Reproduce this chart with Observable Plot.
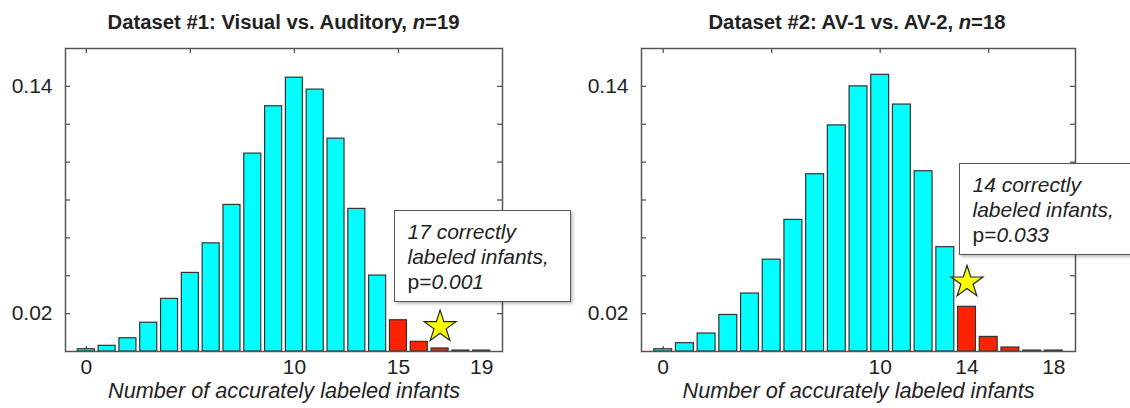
<!DOCTYPE html>
<html>
<head>
<meta charset="utf-8">
<script src="https://cdn.jsdelivr.net/npm/d3@7"></script>
<script src="https://cdn.jsdelivr.net/npm/@observablehq/plot@0.6"></script>
<style>
  html, body { margin: 0; padding: 0; background: #fff; }
  #fig {
    position: relative; width: 1130px; height: 408px; overflow: hidden;
    font-family: "Liberation Sans", Arial, Helvetica, sans-serif; color: #222;
  }
  .panel { position: absolute; top: 0; }
  .title {
    position: absolute; top: 10px; line-height: 24px; font-size: 20.3px; font-weight: bold;
    white-space: nowrap; transform: translateX(-50%);
  }
  .note {
    position: absolute; box-sizing: border-box; height: 92px; background: #fff;
    border: 1.5px solid #555; box-shadow: 2px 2px 3px rgba(0,0,0,0.25);
    padding: 8px 0 0 12.5px; font-size: 21px; line-height: 25px; white-space: nowrap;
  }
  .note i { font-style: italic; }
</style>
</head>
<body>
<div id="fig"></div>
<script>
// Permutation distributions: probability of k correctly labeled infants
const countsA = [0, 1, 2, 3, 4, 5, 6, 7, 8, 9, 10, 11, 12, 13, 14, 15, 16, 17, 18, 19];
const probsA = [0.0012, 0.003, 0.007, 0.0152, 0.0278, 0.0415, 0.0571, 0.0774, 0.1045, 0.1295,
                0.1446, 0.1383, 0.1124, 0.0753, 0.0401, 0.0165, 0.0051, 0.0016, 0.0005, 0.0005];
const countsB = [0, 1, 2, 3, 4, 5, 6, 7, 8, 9, 10, 11, 12, 13, 14, 15, 16, 17, 18];
const probsB = [0.0012, 0.0044, 0.0095, 0.0193, 0.0306, 0.0485, 0.0695, 0.0936, 0.1194, 0.14,
                0.1461, 0.1304, 0.0952, 0.0551, 0.0236, 0.0077, 0.0021, 0.0005, 0.0005];

// Observed counts (first count in the red tail) and star heights
const tailA = 15, observedA = 17, starA = 0.013;
const tailB = 14, observedB = 14, starB = 0.0366;

// Axis ticks and labels
const xDomainA = [-1, 20];
const xDomainB = [-1, 19];
const yDomain = [0, 0.16];
const xTicks = [0, 5, 10, 15];
const yTicks = [0.02, 0.04, 0.06, 0.08, 0.10, 0.12, 0.14];
const yLabels = [0.02, 0.14];
const xLabelsA = [0, 10, 15, 19];
const xLabelsB = [0, 10, 14, 18];
const xTitle = "Number of accurately labeled infants";

const cyan = "#00ffff", red = "#ff2200", frameColor = "#555", barStroke = "#333";

function panel(counts, probs, tail, observed, starY, xDomain, xLabels, marginLeft, marginRight) {
  const W = 565, H = 408, mt = 48, mb = 57;
  const fw = W - marginLeft - marginRight, fh = H - mt - mb;
  const bars = counts.map((k, i) => ({k, p: probs[i]}));
  return Plot.plot({
    width: W, height: H, marginLeft, marginRight, marginTop: mt, marginBottom: mb,
    x: {domain: xDomain, axis: null},
    y: {domain: yDomain, axis: null},
    color: {type: "identity"},
    style: {fontFamily: "'Liberation Sans', Arial, Helvetica, sans-serif", color: "#222", background: "transparent", overflow: "visible"},
    marks: [
      // inward ticks on all four sides (drawn under the bars)
      Plot.tickY(yTicks, {y: d => d, insetRight: fw - 5, stroke: frameColor, strokeWidth: 1.3}),
      Plot.tickY(yTicks, {y: d => d, insetLeft: fw - 5, stroke: frameColor, strokeWidth: 1.3}),
      Plot.tickX(xTicks, {x: d => d, insetBottom: fh - 5, stroke: frameColor, strokeWidth: 1.3}),
      Plot.tickX(xTicks, {x: d => d, insetTop: fh - 5, stroke: frameColor, strokeWidth: 1.3}),
      Plot.rectY(bars, {
        x1: d => d.k - 0.5, x2: d => d.k + 0.5, y: "p",
        insetLeft: 1.9, insetRight: 1.9,
        fill: d => d.k >= tail ? red : cyan,
        stroke: barStroke, strokeWidth: 1.2
      }),
      Plot.frame({stroke: frameColor, strokeWidth: 1.5}),
      Plot.dot([{k: observed, p: starY}], {
        x: "k", y: "p", symbol: "star", r: 10,
        fill: "#ffff00", stroke: "#222", strokeWidth: 1.2
      }),
      Plot.text(yLabels, {y: d => d, frameAnchor: "left", dx: -13, textAnchor: "end",
        text: d => d.toFixed(2), fontSize: 21}),
      Plot.text(xLabels, {x: d => d, frameAnchor: "bottom", dy: 22,
        text: d => String(d), fontSize: 21}),
      Plot.text([xTitle], {frameAnchor: "bottom", dy: 46, text: d => d,
        fontSize: 21.7, fontStyle: "italic"})
    ]
  });
}

const fig = document.getElementById("fig");

const left = panel(countsA, probsA, tailA, observedA, starA, xDomainA, xLabelsA, 65, 63);
left.classList.add("panel");
left.style.left = "0px";
fig.appendChild(left);

const right = panel(countsB, probsB, tailB, observedB, starB, xDomainB, xLabelsB, 76, 55);
right.classList.add("panel");
right.style.left = "565px";
fig.appendChild(right);

function addTitle(html, cx) {
  const d = document.createElement("div");
  d.className = "title";
  d.style.left = cx + "px";
  d.innerHTML = html;
  fig.appendChild(d);
}
addTitle("Dataset #1: Visual vs. Auditory, <i>n</i>=19", 283.5);
addTitle("Dataset #2: AV-1 vs. AV-2, <i>n</i>=18", 857);

function addNote(lines, x, y, w) {
  const d = document.createElement("div");
  d.className = "note";
  d.style.left = x + "px";
  d.style.top = y + "px";
  d.style.width = w + "px";
  d.innerHTML = lines.join("<br>");
  fig.appendChild(d);
}
addNote(["<i>17 correctly</i>", "<i>labeled infants,</i>", "p=<i>0.001</i>"], 394, 210, 177);
addNote(["<i>14 correctly</i>", "<i>labeled infants,</i>", "p=<i>0.033</i>"], 959, 163, 200);
</script>
</body>
</html>
